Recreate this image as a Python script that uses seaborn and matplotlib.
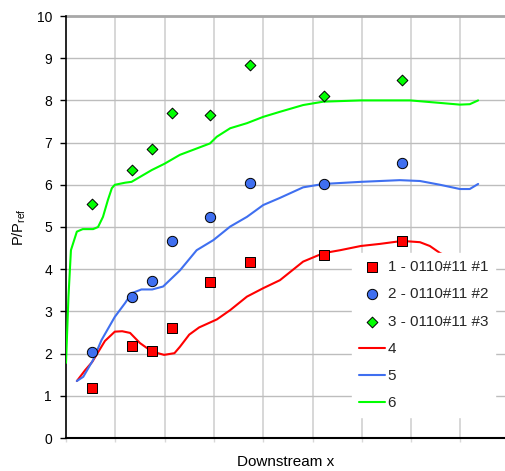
import numpy as np
import pandas as pd
import matplotlib
matplotlib.use("Agg")
import matplotlib.pyplot as plt
import seaborn as sns

# ---- data ----
pt_x = [0.53, 1.33, 1.75, 2.14, 2.93, 3.74, 5.23, 6.82]
s1_y = [1.19, 2.19, 2.05, 2.60, 3.70, 4.18, 4.33, 4.67]
s2_y = [2.04, 3.34, 3.73, 4.68, 5.24, 6.04, 6.03, 6.52]
s3_y = [5.54, 6.35, 6.85, 7.70, 7.65, 8.84, 8.10, 8.48]
point_labels = ["1 - 0110#11 #1", "2 - 0110#11 #2", "3 - 0110#11 #3"]

l4_x = [0.22, 0.39, 0.53, 0.79, 0.99, 1.14, 1.30, 1.50, 1.74, 1.99, 2.20, 2.31,
        2.50, 2.70, 3.06, 3.33, 3.67, 4.00, 4.34, 4.81, 5.22, 5.56, 5.98, 6.37,
        6.82, 7.18, 7.38, 7.59, 7.99, 8.30]
l4_y = [1.35, 1.61, 1.80, 2.30, 2.52, 2.53, 2.49, 2.25, 2.05, 1.97, 2.01, 2.16,
        2.45, 2.62, 2.81, 3.03, 3.35, 3.55, 3.74, 4.18, 4.38, 4.45, 4.55, 4.60,
        4.67, 4.64, 4.55, 4.38, 4.17, 3.98]

l5_x = [0.22, 0.35, 0.55, 0.72, 0.99, 1.20, 1.33, 1.53, 1.75, 1.97, 2.31, 2.65,
        2.99, 3.33, 3.67, 4.00, 4.34, 4.81, 5.22, 5.98, 6.77, 7.18, 7.59, 7.99,
        8.19, 8.36]
l5_y = [1.35, 1.45, 1.85, 2.32, 2.87, 3.20, 3.43, 3.52, 3.52, 3.59, 3.97, 4.45,
        4.69, 5.01, 5.24, 5.52, 5.69, 5.94, 6.02, 6.07, 6.11, 6.09, 6.00, 5.90,
        5.90, 6.02]

l6_x = [0.00, 0.05, 0.10, 0.22, 0.34, 0.55, 0.65, 0.75, 0.85, 0.93, 0.99, 1.20,
        1.33, 1.74, 2.00, 2.31, 2.65, 2.92, 3.06, 3.33, 3.67, 4.00, 4.34, 4.81,
        5.22, 5.98, 6.98, 7.59, 7.99, 8.19, 8.36]
l6_y = [1.78, 3.35, 4.45, 4.89, 4.95, 4.95, 5.00, 5.24, 5.64, 5.92, 6.00, 6.05,
        6.07, 6.35, 6.50, 6.71, 6.86, 6.98, 7.14, 7.34, 7.46, 7.61, 7.73, 7.89,
        7.97, 8.00, 8.00, 7.94, 7.90, 7.91, 8.00]
line_labels = ["4", "5", "6"]

red, blue, green = "#FF0000", "#3F6FF0", "#00FF00"

sns.set_theme(style="white")
plt.rcParams["font.family"] = ["Liberation Sans", "DejaVu Sans"]
plt.rcParams["mathtext.fontset"] = "custom"
plt.rcParams["mathtext.rm"] = "Liberation Sans"

fig = plt.figure(figsize=(5.05, 4.71), dpi=100)
ax = fig.add_axes([66 / 505, 33 / 471, 439 / 505, 422 / 471])

# grid
for v in range(1, 9):
    ax.axvline(v, color="#D4D4D4", lw=1.3, zorder=0)
for h in range(1, 11):
    ax.axhline(h, color="#BDBDBD", lw=1.0, zorder=0)
ax.axhline(10, color="#A8A8A8", lw=2.0, zorder=0, clip_on=False)

mk = dict(edgecolor="black", linewidth=0.7, zorder=5, clip_on=False)
sns.scatterplot(x=pt_x, y=s1_y, marker="s", s=50, color=red, label=point_labels[0], ax=ax, **mk)
sns.scatterplot(x=pt_x, y=s2_y, marker="o", s=55, color=blue, label=point_labels[1], ax=ax, **mk)
sns.scatterplot(x=pt_x, y=s3_y, marker="D", s=30, color=green, label=point_labels[2], ax=ax, **mk)

sns.lineplot(x=l4_x, y=l4_y, sort=False, color=red, lw=1.5, label=line_labels[0], ax=ax, zorder=3)
sns.lineplot(x=l5_x, y=l5_y, sort=False, color=blue, lw=1.5, label=line_labels[1], ax=ax, zorder=3)
sns.lineplot(x=l6_x, y=l6_y, sort=False, color=green, lw=1.5, label=line_labels[2], ax=ax, zorder=3)

ax.set_xlim(0, 439 / 49.3)
ax.set_ylim(0, 10)
ax.set_yticks(range(0, 11))
ax.set_xticks(range(0, 9))
ax.set_xticklabels([])
ax.tick_params(axis="y", which="both", left=True, length=4, width=1, color="black",
               labelsize=10, pad=6, labelcolor="black")
ax.tick_params(axis="x", bottom=True, length=3, width=1, color="#D8D8D8")

for s in ["top", "right"]:
    ax.spines[s].set_visible(False)
ax.spines["left"].set_color("black")
ax.spines["bottom"].set_color("black")
ax.spines["left"].set_linewidth(1.2)
ax.spines["bottom"].set_linewidth(1.5)

ax.set_xlabel("Downstream x", fontsize=11, color="black", labelpad=6)
ax.set_ylabel("P/P$_\\mathregular{ref}$", fontsize=10.5, color="black", labelpad=6)

leg = ax.legend(loc="upper left", bbox_to_anchor=(0.651, 0.438), frameon=True,
                fontsize=11, labelspacing=0.87, handlelength=1.7, handletextpad=0.2,
                borderpad=0.45, borderaxespad=0)
leg.get_frame().set_facecolor("white")
leg.get_frame().set_edgecolor("white")
leg.get_frame().set_alpha(1.0)
leg.get_frame().set_boxstyle("square", pad=0.0)
leg.set_zorder(10)

fig.savefig("out.png", dpi=100)
